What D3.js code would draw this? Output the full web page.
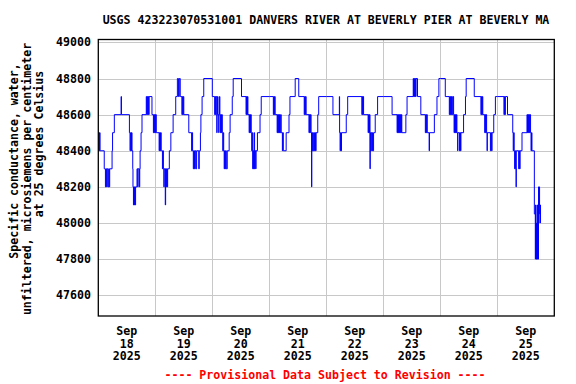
<!DOCTYPE html>
<html>
<head>
<meta charset="utf-8">
<script src="https://cdn.jsdelivr.net/npm/d3@7"></script>
<style>
  body { margin: 0; background: #fff; }
  text { font-family: "DejaVu Sans Mono", monospace; font-weight: bold; font-size: 11.6px; }
</style>
</head>
<body>
<div id="chart"></div>
<script>
'use strict';

// [hour of day, specific conductance] change points, one list per day
const sep18 = [[0,48500],[0.25,48400],[0.5,48500],[0.75,48400],[2.5,48300],[3.0,48200],[3.25,48300],[3.5,48200],[3.75,48300],[4.1,48200],[4.4,48300],[4.6,48200],[4.8,48300],[5.8,48400],[6.0,48500],[6.75,48600],[9.6,48700],[9.75,48600],[13.1,48500],[13.35,48400],[13.6,48500],[13.85,48400],[14.0,48500],[14.2,48400],[14.5,48300],[14.6,48200],[14.8,48100],[15.0,48200],[15.1,48100],[15.3,48200],[15.5,48100],[15.7,48200],[16.3,48300],[16.6,48200],[16.75,48300],[17.3,48200],[17.45,48300],[17.6,48400],[18.0,48500],[18.4,48600],[20.2,48700],[20.4,48600],[20.6,48700],[20.8,48600],[21.0,48700],[21.2,48600],[21.4,48700],[22.6,48600],[23.2,48500],[23.4,48600],[23.6,48500],[23.8,48600]];
const sep19 = [[0,48500],[0.2,48600],[0.4,48500],[1.6,48400],[1.8,48500],[2.0,48400],[2.2,48500],[2.5,48400],[3.0,48300],[3.2,48400],[3.4,48300],[3.6,48200],[3.75,48300],[4.2,48100],[4.35,48300],[4.6,48200],[4.8,48300],[5.0,48200],[5.2,48300],[5.9,48400],[6.55,48500],[7.5,48600],[8.6,48700],[9.3,48800],[9.75,48700],[10.1,48800],[10.5,48700],[11.2,48600],[11.4,48700],[11.6,48600],[11.8,48700],[12.0,48600],[14.1,48500],[15.3,48400],[15.5,48500],[15.7,48400],[16.0,48300],[16.2,48400],[16.5,48300],[16.8,48400],[17.1,48300],[17.4,48400],[18.3,48300],[18.5,48400],[19.0,48500],[19.2,48600],[19.7,48700],[20.4,48800]];
const sep20 = [[0,48700],[1.0,48600],[1.2,48700],[1.4,48600],[1.6,48700],[1.9,48500],[2.0,48600],[2.2,48700],[2.4,48600],[2.7,48500],[2.8,48600],[3.0,48700],[3.2,48600],[3.4,48500],[3.6,48600],[3.8,48500],[4.0,48600],[4.2,48500],[4.4,48400],[4.6,48500],[4.8,48400],[5.0,48300],[5.2,48400],[5.4,48300],[5.6,48400],[5.9,48300],[6.3,48400],[7.1,48500],[7.5,48600],[8.4,48700],[8.8,48800],[12.3,48700],[14.2,48600],[14.4,48700],[14.6,48600],[14.8,48700],[15.0,48600],[15.5,48500],[15.7,48600],[15.9,48500],[16.1,48600],[16.4,48500],[16.6,48400],[16.8,48500],[17.0,48300],[17.2,48400],[17.4,48300],[17.6,48500],[17.8,48300],[18.0,48400],[18.3,48300],[18.4,48400],[19.0,48500],[20.1,48600],[20.6,48700]];
const sep21 = [[0,48700],[1.7,48600],[1.9,48700],[2.1,48600],[2.3,48700],[2.45,48600],[3.3,48500],[3.5,48600],[3.7,48500],[3.9,48600],[4.1,48500],[4.3,48600],[4.5,48500],[4.8,48600],[5.0,48500],[5.5,48400],[5.65,48500],[5.9,48400],[7.1,48500],[8.3,48600],[8.7,48700],[10.9,48800],[12.4,48700],[14.7,48600],[14.9,48700],[15.1,48600],[15.3,48700],[15.5,48600],[16.7,48500],[16.9,48600],[17.1,48500],[17.3,48600],[17.6,48500],[17.8,48200],[17.9,48500],[18.1,48400],[18.3,48500],[18.5,48400],[18.8,48500],[19.0,48400],[19.3,48500],[19.5,48400],[19.7,48500],[20.4,48600],[20.8,48700]];
const sep22 = [[0,48700],[2.8,48600],[5.5,48700],[5.6,48500],[5.8,48400],[6.0,48500],[6.2,48400],[6.4,48500],[8.4,48600],[9.0,48700],[15.0,48600],[15.1,48700],[15.3,48600],[15.5,48700],[15.7,48600],[17.6,48500],[17.8,48600],[18.0,48500],[18.2,48600],[18.4,48300],[18.5,48500],[18.7,48400],[18.9,48500],[19.2,48400],[19.4,48500],[19.6,48400],[19.9,48500],[20.6,48600],[21.6,48700]];
const sep23 = [[0,48700],[3.7,48600],[5.8,48500],[6.0,48600],[6.2,48500],[6.4,48600],[6.6,48500],[6.8,48600],[7.0,48500],[7.2,48600],[7.4,48500],[7.6,48600],[7.8,48500],[9.5,48600],[10.0,48700],[12.6,48800],[12.8,48700],[13.0,48800],[13.2,48700],[13.4,48800],[13.6,48700],[13.8,48800],[14.4,48700],[15.8,48600],[17.7,48500],[17.9,48600],[18.1,48500],[18.3,48600],[18.5,48500],[19.3,48400],[19.45,48500],[21.5,48600],[22.6,48700],[23.4,48800]];
const sep24 = [[0,48800],[2.1,48700],[3.8,48600],[4.0,48700],[4.2,48600],[4.4,48700],[4.6,48600],[4.8,48700],[5.0,48600],[5.3,48700],[5.6,48600],[5.8,48500],[6.0,48600],[6.2,48500],[6.4,48600],[6.6,48500],[6.8,48600],[7.0,48500],[7.3,48400],[7.4,48500],[8.1,48400],[8.3,48500],[8.5,48400],[8.7,48500],[9.8,48600],[10.6,48700],[10.9,48800],[14.3,48700],[17.1,48600],[17.3,48700],[17.5,48600],[17.7,48700],[17.9,48600],[18.7,48500],[18.9,48600],[19.1,48500],[19.3,48600],[19.5,48500],[19.7,48400],[19.8,48500],[21.1,48400],[21.3,48500],[21.6,48400],[21.8,48500],[22.5,48600],[23.2,48700]];
const sep25 = [[0,48700],[2.8,48600],[3.0,48700],[3.2,48600],[3.4,48700],[4.3,48600],[6.5,48500],[6.7,48400],[6.9,48500],[7.1,48400],[7.3,48300],[7.5,48400],[7.7,48300],[7.9,48200],[8.0,48400],[9.0,48300],[9.2,48400],[9.4,48300],[9.6,48400],[10.4,48500],[12.5,48600],[12.7,48500],[12.9,48600],[13.1,48500],[13.3,48600],[13.5,48500],[13.7,48600],[14.0,48500],[14.2,48400],[14.4,48500],[14.6,48400],[15.6,48050],[16.0,47800],[16.1,48100],[16.2,47900],[16.35,47800],[16.5,48000],[16.6,47800],[16.75,48100],[16.9,47800],[17.05,48000],[17.2,47800],[17.35,48200],[17.5,48100],[17.65,48200],[17.8,48050],[17.95,48000],[18.1,48100],[18.2,48000]];

const days = [18, 19, 20, 21, 22, 23, 24, 25];
const dayData = [sep18, sep19, sep20, sep21, sep22, sep23, sep24, sep25];
const yTicks = [47600, 47800, 48000, 48200, 48400, 48600, 48800, 49000];

const title = "USGS 423223070531001 DANVERS RIVER AT BEVERLY PIER AT BEVERLY MA";
const yTitle = ["Specific conductance, water,", "unfiltered, microsiemens per centimeter", "at 25 degrees Celsius"];
const footer = "---- Provisional Data Subject to Revision ----";

const width = 576, height = 384;
const plotL = 98.3, plotR = 554.3, plotT = 39.5, plotB = 316;

let series = [];
dayData.forEach((arr, i) => {
    arr.forEach(p => {
        series.push({ t: new Date(Date.UTC(2025, 8, days[i]) + p[0] * 3600e3), v: p[1] });
    });
});

let X = d3.scaleUtc()
    .domain([new Date(Date.UTC(2025, 8, 18)), new Date(Date.UTC(2025, 8, 26))])
    .range([plotL, plotR]);
let Y = d3.scaleLinear().domain([47485, 49016]).range([plotB, plotT]);

let svg = d3.select("#chart").append("svg")
    .attr("width", width)
    .attr("height", height);

svg.append("rect").attr("width", width).attr("height", height).attr("fill", "#fff");

// grid
svg.append("g").selectAll("line")
    .data(yTicks)
    .enter()
    .append("line")
    .attr("x1", plotL).attr("x2", plotR)
    .attr("y1", d => Math.round(Y(d)) + 0.5)
    .attr("y2", d => Math.round(Y(d)) + 0.5)
    .attr("stroke", "#c8c8c8")
    .attr("stroke-width", 1);

svg.append("g").selectAll("line")
    .data(days.slice(1))
    .enter()
    .append("line")
    .attr("x1", d => Math.round(X(new Date(Date.UTC(2025, 8, d)))) + 0.5)
    .attr("x2", d => Math.round(X(new Date(Date.UTC(2025, 8, d)))) + 0.5)
    .attr("y1", plotT).attr("y2", plotB)
    .attr("stroke", "#c8c8c8")
    .attr("stroke-width", 1);

// data
let line = d3.line()
    .x(d => X(d.t))
    .y(d => Y(d.v))
    .curve(d3.curveStepAfter);

svg.append("path")
    .datum(series)
    .attr("d", line)
    .attr("fill", "none")
    .attr("stroke", "#0000ff")
    .attr("stroke-width", 1);

// frame
svg.append("rect")
    .attr("x", plotL).attr("y", plotT)
    .attr("width", plotR - plotL).attr("height", plotB - plotT)
    .attr("fill", "none")
    .attr("stroke", "#000")
    .attr("stroke-width", 1.3);

// y tick labels
svg.append("g").selectAll("text")
    .data(yTicks)
    .enter()
    .append("text")
    .attr("x", 91)
    .attr("y", d => Y(d) + 4)
    .attr("text-anchor", "end")
    .text(d => d);

// x tick labels (centred at noon)
let xl = svg.append("g").selectAll("text")
    .data(days)
    .enter()
    .append("text")
    .attr("text-anchor", "middle")
    .attr("transform", d => "translate(" + X(new Date(Date.UTC(2025, 8, d, 12))) + ",0)");
xl.append("tspan").attr("x", 0).attr("y", 335).text("Sep");
xl.append("tspan").attr("x", 0).attr("y", 347.5).text(d => d);
xl.append("tspan").attr("x", 0).attr("y", 360).text("2025");

// y title, each line centred where it sits in the original
const yTitleMid = [161, 179, 144];
svg.append("g")
    .attr("transform", "rotate(-90)")
    .selectAll("text")
    .data(yTitle)
    .enter()
    .append("text")
    .attr("x", (d, i) => -yTitleMid[i])
    .attr("y", (d, i) => 18 + i * 12.7)
    .attr("text-anchor", "middle")
    .text(d => d);

svg.append("text")
    .attr("x", 326).attr("y", 24)
    .attr("text-anchor", "middle")
    .text(title);

svg.append("text")
    .attr("x", 325).attr("y", 379)
    .attr("text-anchor", "middle")
    .attr("fill", "#ff0000")
    .text(footer);
</script>
</body>
</html>
